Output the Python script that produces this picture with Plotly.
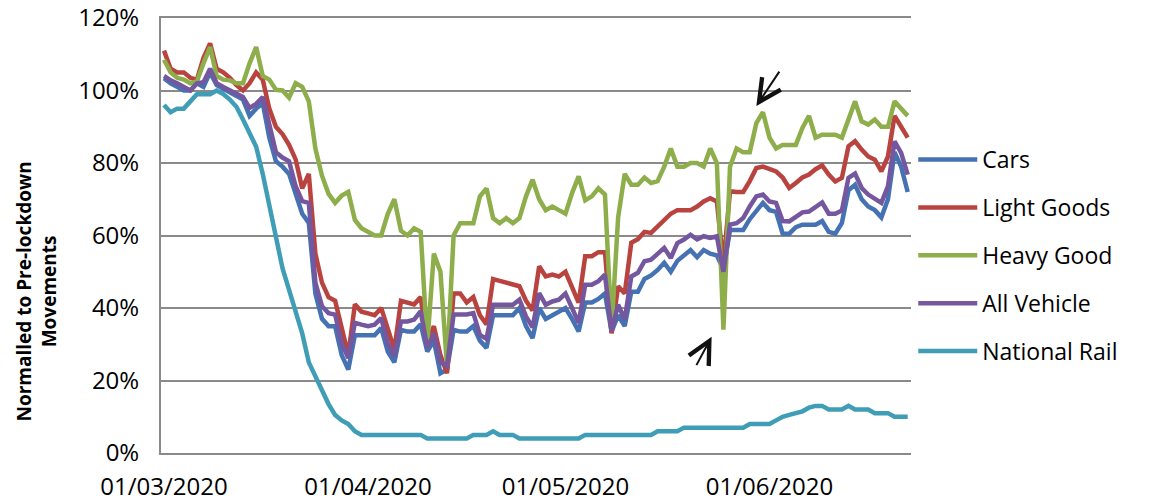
import pandas as pd
import plotly.graph_objects as go

# daily values, % of pre-lockdown movements, from 01/03/2020
cars = [
    103.4, 102, 101, 100, 100, 102, 101, 105, 101.5, 100.5, 99.5, 98.5, 97.5, 93, 95, 96.5, 87, 80.5, 79,
    77, 71, 66, 63.5, 44, 37, 35, 35, 27, 23, 32.5, 32.5, 32.5, 32.5, 34.5, 28, 25, 34, 33.5,
    33.5, 35.5, 28, 31, 22, 23, 34, 33.5, 33.5, 35, 31, 29, 38, 38, 38, 38, 40, 35, 31.7,
    40, 37, 38, 39, 40, 37, 33.5, 41.5, 41.5, 42.5, 44, 33.5, 38, 35, 44.5, 44.5, 48, 49, 50.5,
    52.5, 50, 53, 54.5, 56, 54, 56, 55, 54.5, 50.5, 61.5, 61.5, 61.5, 64.5, 67, 69, 67, 66.5, 60.5,
    60.5, 62.3, 63, 63, 63, 64, 61, 60.5, 63.5, 72.5, 74, 70, 68, 67, 65, 70, 83, 79, 72,
]
light_goods = [
    111, 106, 105, 105, 103.5, 103, 109, 113, 106, 105, 103.5, 101.5, 100, 102, 105, 103, 95, 90, 88,
    85, 81, 73, 77, 55, 47, 43, 42, 34, 27, 41, 39, 38.5, 38, 40, 34, 28.5, 42, 41.4,
    41, 43, 30, 35, 27, 22, 44, 44, 41.5, 43, 38, 35.5, 48, 47.5, 47, 46.5, 46, 42, 39.3,
    51.5, 48.7, 49.2, 48.7, 50, 46, 41.5, 54.3, 54.3, 55.4, 55.4, 33, 46, 44, 58, 59, 61, 60.7, 62.5,
    64, 66, 67, 67, 67, 68, 69.4, 70.3, 69.4, 52, 72.2, 72, 72, 75, 78.6, 79, 78.2, 77.7, 76,
    73.1, 74.5, 76, 76.8, 78.3, 79.3, 76.8, 74.9, 75.9, 84.6, 86, 83.7, 81.8, 80.9, 77.7, 81.8, 93, 90, 87,
]
heavy_good = [
    108.5, 105, 103.5, 103, 102, 102.5, 107.5, 112, 104, 103, 102.8, 102, 102, 107.5, 112, 104, 103, 100.2, 100,
    98, 102, 101, 97, 84, 76.5, 71.5, 69, 71, 72, 64.3, 62, 61, 60, 60, 66, 70, 61.3, 60,
    62, 61, 30, 55, 50, 24, 60, 63.4, 63.4, 63.4, 70.8, 73, 64.8, 63.4, 64.8, 63.4, 64.8, 70.8, 75.4,
    70, 67, 68, 67, 66, 71.7, 76.3, 69.7, 70.8, 73, 71.3, 34, 65, 77, 74, 74, 76, 74.5, 75,
    79, 84, 79, 79, 80, 80, 79, 84, 80, 34, 79, 84, 83, 83, 91, 94, 87, 84, 85,
    85, 85, 89.7, 93, 87, 87.8, 87.8, 87.8, 87, 92, 97, 91.5, 90.6, 92, 90, 90, 97, 95, 93,
]
all_vehicle = [
    104, 102.8, 102, 101, 100, 102, 102.3, 106, 102, 101, 100, 99.3, 98.2, 95.2, 96.3, 98.2, 90, 83, 81.5,
    80.5, 73.6, 69.5, 69, 47, 40.5, 38.6, 38.2, 30.3, 26.2, 35.9, 35.4, 35, 35.4, 37.2, 30.3, 26.7, 36.3, 36.3,
    36.8, 39.1, 29, 33, 25, 24, 38.2, 38.2, 38.2, 38.6, 32.6, 31.5, 40.9, 40.9, 40.9, 40.9, 42.3, 37.7, 34.7,
    44.1, 40.9, 41.8, 42.3, 44, 40, 35.9, 46.4, 46.4, 47.4, 49.2, 33.6, 40.9, 36.8, 48.7, 49.7, 52.9, 53.3, 55,
    56.6, 53.8, 57.9, 58.9, 60.2, 58.9, 59.8, 59.3, 59.8, 50, 63, 63.4, 64.8, 68, 70.8, 71.3, 69.4, 69, 64,
    63.9, 65.3, 66.4, 66.6, 67.9, 69.1, 66, 66, 66.9, 75.9, 77.1, 73.1, 71.3, 70.1, 69, 73.6, 86, 82.8, 76.8,
]
national_rail = [
    96, 94, 95, 95, 97, 99, 99, 99, 100, 99, 97.5, 95.5, 92, 88, 84.5, 77, 68, 60, 51,
    45, 39, 33, 25, 21, 17, 13.5, 10.5, 9, 8, 6, 5, 5, 5, 5, 5, 5, 5, 5,
    5, 5, 4, 4, 4, 4, 4, 4, 4, 5, 5, 5, 6, 5, 5, 5, 4, 4, 4,
    4, 4, 4, 4, 4, 4, 4, 5, 5, 5, 5, 5, 5, 5, 5, 5, 5, 5, 6,
    6, 6, 6, 7, 7, 7, 7, 7, 7, 7, 7, 7, 7, 8, 8, 8, 8, 9, 10,
    10.5, 11, 11.5, 12.5, 13, 13, 12, 12, 12, 13, 12, 12, 12, 11, 11, 11, 10, 10, 10,
]

dates = pd.date_range("2020-03-01", periods=len(cars), freq="D")
tick_dates = ["2020-03-01", "2020-04-01", "2020-05-01", "2020-06-01"]
y_ticks = [0, 20, 40, 60, 80, 100, 120]
y_tick_text = [f"{v}%" for v in y_ticks]

SERIES = [
    ("Cars", cars, "#4572B2"),
    ("Light Goods", light_goods, "#B9433F"),
    ("Heavy Good", heavy_good, "#8DAE4B"),
    ("All Vehicle", all_vehicle, "#74579E"),
    ("National Rail", national_rail, "#3F9DB6"),
]

FONT = "Open Sans, Lato, sans-serif"
GRID = "#8A8A8A"

fig = go.Figure()
for name, values, color in SERIES:
    fig.add_trace(go.Scatter(
        x=dates, y=values, mode="lines", name=name,
        legendgroup=name,
        line=dict(color=color, width=4.5),
    ))

# the two hand-drawn arrows pointing at the HGV peak and the bank-holiday dip
arrow = dict(text="", showarrow=True, arrowhead=5, arrowsize=2.2,
             arrowwidth=2, arrowcolor="#111111", xref="x", yref="y")
fig.add_annotation(x="2020-05-30", y=95.7, ax=24, ay=-36, **arrow)
fig.add_annotation(x="2020-05-23 05:00", y=32.1, ax=-16, ay=30, **arrow)

fig.add_annotation(
    text="Normalled to Pre-lockdown<br>Movements",
    xref="paper", yref="paper", x=-0.166, y=0.37,
    xanchor="center", yanchor="middle",
    textangle=-90, showarrow=False,
    font=dict(family=FONT, size=19, color="#000000", weight="bold"),
)

# the page body keeps its default 8px margin, so the figure is a little smaller
fig.update_layout(
    width=1154, height=492,
    paper_bgcolor="white", plot_bgcolor="white",
    margin=dict(l=153, r=251, t=10, b=47),
    font=dict(family=FONT, size=24, color="#000000"),
    legend=dict(
        x=1.003, y=0.724, xanchor="left", yanchor="top",
        traceorder="grouped", tracegroupgap=15,
        itemwidth=59, font=dict(size=23),
        bgcolor="rgba(0,0,0,0)",
    ),
    xaxis=dict(
        range=["2020-02-29 13:00", "2020-06-22 12:00"],
        tickvals=tick_dates, tickformat="%d/%m/%Y",
        showgrid=False, zeroline=False, automargin=False,
        ticklabeloverflow="allow",
        # mirror draws the top border, which stands in for the 120% gridline
        showline=True, mirror=True, linecolor=GRID, linewidth=1.5,
        ticks="outside", ticklen=11, tickcolor="rgba(0,0,0,0)",
    ),
    yaxis=dict(
        range=[0, 120], tickvals=y_ticks, ticktext=y_tick_text,
        showgrid=True, gridcolor=GRID, gridwidth=1.5,
        zeroline=False, automargin=False,
        ticklabeloverflow="allow",
        showline=True, linecolor=GRID, linewidth=2,
        ticks="outside", ticklen=15, tickcolor="rgba(0,0,0,0)",
    ),
)

fig.write_html("out.html")
